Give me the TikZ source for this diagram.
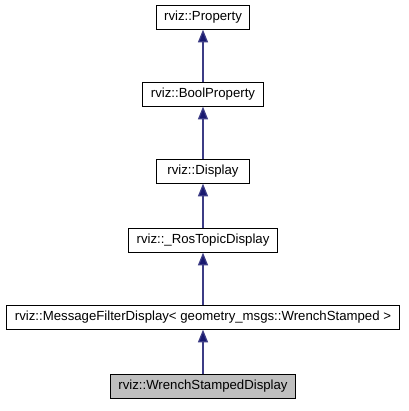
\documentclass[tikz,border=0pt]{standalone}
\usepackage{fontspec}
\setmainfont{Liberation Sans}
\usetikzlibrary{arrows.meta}
\definecolor{edgeblue}{RGB}{25,25,112}
\definecolor{grayfill}{RGB}{191,191,191}
\begin{document}
\begin{tikzpicture}[x=0.75pt,y=-0.75pt,
  cls/.style={draw=black,line width=0.75pt,fill=white,minimum height=17.5pt,
    inner xsep=6pt,inner ysep=0pt,font=\fontsize{9.9}{12}\selectfont,text=black},
  cur/.style={cls,fill=grayfill},
  inh/.style={draw=edgeblue!85!white,line width=0.9pt,
    -{Triangle[length=9.5pt,width=7.5pt,fill=edgeblue]}}]
\useasboundingbox (0,0) rectangle (408,411);
\node[cls] (p) at (203,17.5) {rviz::Property};
\node[cls] (b) at (203,94.5) {rviz::BoolProperty};
\node[cls,minimum width=70pt] (d) at (203,171.5) {rviz::Display};
\node[cls] (r) at (203,240.5) {rviz::\_RosTopicDisplay};
\node[cls] (m) at (203,317.5) {rviz::MessageFilterDisplay< geometry\_msgs::WrenchStamped >};
\node[cur] (w) at (203,386.5) {rviz::WrenchStampedDisplay};
\draw[inh] (b) -- (p);
\draw[inh] (d) -- (b);
\draw[inh] (r) -- (d);
\draw[inh] (m) -- (r);
\draw[inh] (w) -- (m);
\end{tikzpicture}
\end{document}
